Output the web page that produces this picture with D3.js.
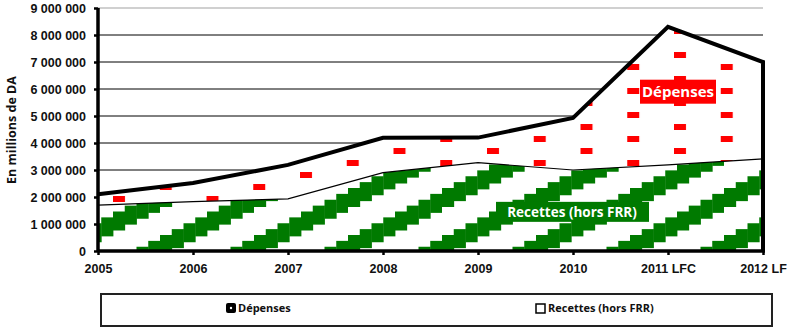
<!DOCTYPE html>
<html>
<head>
<meta charset="utf-8">
<script src="https://cdn.jsdelivr.net/npm/d3@7"></script>
<style>
  body { margin: 0; background: #fff; }
  svg { display: block; font-family: "Open Sans", "Noto Sans", sans-serif; }
  .axis text { font-size: 12.5px; font-weight: 700; fill: #111; }
</style>
</head>
<body>
<div id="chart"></div>
<script>
const years = ["2005", "2006", "2007", "2008", "2009", "2010", "2011 LFC", "2012 LF"];
const depenses = [2100000, 2520000, 3190000, 4190000, 4200000, 4930000, 8300000, 7000000];
const recettes = [1700000, 1830000, 1930000, 2900000, 3270000, 3000000, 3190000, 3410000];
const yTicks = [0, 1000000, 2000000, 3000000, 4000000, 5000000, 6000000, 7000000, 8000000, 9000000];

const width = 787, height = 330;
const red = "#ff0000", green = "#007a00";

const svg = d3.select("#chart")
  .append("svg")
  .attr("width", width)
  .attr("height", height);

const x = d3.scalePoint().domain(years).range([98, 763]);
const y = d3.scaleLinear().domain([0, 9000000]).range([251, 8]);

const fmt = v => d3.format(",")(v).replace(/,/g, " ");

// patterns
const defs = svg.append("defs");

const dash = defs.append("pattern")
  .attr("id", "dash")
  .attr("patternUnits", "userSpaceOnUse")
  .attr("x", 113).attr("y", 196)
  .attr("width", 93.5).attr("height", 24);
dash.append("rect").attr("width", 93.5).attr("height", 24).attr("fill", "#fff");
dash.append("rect").attr("x", 0).attr("y", 0).attr("width", 12).attr("height", 6).attr("fill", red);
dash.append("rect").attr("x", 46.75).attr("y", 12).attr("width", 12).attr("height", 6).attr("fill", red);

const pw = 94, ph = 47, steps = 8, thick = 19;
const stripe = defs.append("pattern")
  .attr("id", "stripe")
  .attr("patternUnits", "userSpaceOnUse")
  .attr("x", 160).attr("y", 207)
  .attr("width", pw).attr("height", ph);
stripe.append("rect").attr("width", pw).attr("height", ph).attr("fill", "#fff");
d3.range(steps).forEach(i => {
  const sx = i * pw / steps, sw = pw / steps + 0.4;
  const yb = ph - i * ph / steps;
  const top = yb - thick;
  if (top >= 0) {
    stripe.append("rect").attr("x", sx).attr("y", top).attr("width", sw).attr("height", thick).attr("fill", green);
  } else {
    stripe.append("rect").attr("x", sx).attr("y", 0).attr("width", sw).attr("height", yb).attr("fill", green);
    stripe.append("rect").attr("x", sx).attr("y", ph + top).attr("width", sw).attr("height", -top).attr("fill", green);
  }
});

// gridlines
svg.append("g")
  .selectAll("line")
  .data(yTicks.filter(d => d > 0))
  .join("line")
  .attr("x1", x(years[0])).attr("x2", x(years[years.length - 1]))
  .attr("y1", d => y(d)).attr("y2", d => y(d))
  .attr("stroke", d => d === 9000000 ? "#d0d0d0" : "#000")
  .attr("stroke-width", d => d === 9000000 ? 2 : 1);

const area = d3.area()
  .x((d, i) => x(years[i]))
  .y0(y(0))
  .y1(d => y(d));

const line = d3.line()
  .x((d, i) => x(years[i]))
  .y(d => y(d));

svg.append("path")
  .datum(depenses)
  .attr("d", area)
  .attr("fill", "url(#dash)");

svg.append("path")
  .datum(recettes)
  .attr("d", area)
  .attr("fill", "url(#stripe)");

svg.append("path")
  .datum(recettes)
  .attr("d", line)
  .attr("fill", "none")
  .attr("stroke", "#000")
  .attr("stroke-width", 1.2);

// dépenses outline with right edge down to the axis
const last = years[years.length - 1];
svg.append("path")
  .attr("d", line(depenses) + `L${x(last)},${y(0)}`)
  .attr("fill", "none")
  .attr("stroke", "#000")
  .attr("stroke-width", 4)
  .attr("stroke-linejoin", "miter");

// labels
const lab1x = x("2011 LFC") + 10, lab1y = y(5900000);
svg.append("rect")
  .attr("x", lab1x - 38).attr("y", lab1y - 12)
  .attr("width", 76).attr("height", 24)
  .attr("fill", red);
svg.append("text")
  .attr("x", lab1x).attr("y", lab1y)
  .attr("dy", "0.35em")
  .attr("text-anchor", "middle")
  .attr("fill", "#fff")
  .attr("font-size", 15)
  .attr("font-weight", 700)
  .text("Dépenses");

const lab2x = (x("2009") + x("2011 LFC")) / 2 - 1, lab2y = y(1450000);
svg.append("rect")
  .attr("x", lab2x - 76).attr("y", lab2y - 10)
  .attr("width", 153).attr("height", 20)
  .attr("fill", green);
svg.append("text")
  .attr("x", lab2x).attr("y", lab2y)
  .attr("dy", "0.35em")
  .attr("text-anchor", "middle")
  .attr("fill", "#fff")
  .attr("font-size", 13.5)
  .attr("font-weight", 700)
  .text("Recettes (hors FRR)");

// axes
const yAxis = svg.append("g")
  .attr("class", "axis")
  .attr("transform", `translate(${x(years[0])},0)`)
  .call(d3.axisLeft(y).tickValues(yTicks).tickFormat(fmt).tickSize(4).tickPadding(8));
yAxis.select(".domain").attr("stroke-width", 3.5).attr("d", `M0,${y(9000000)}V${y(0)}`);
yAxis.selectAll(".tick line").attr("stroke-width", 2.5);

const xAxis = svg.append("g")
  .attr("class", "axis")
  .attr("transform", `translate(0,${y(0)})`)
  .call(d3.axisBottom(x).tickSize(4).tickPadding(9));
xAxis.select(".domain").attr("stroke-width", 3.5).attr("d", `M${x(years[0])},0H${x(last) + 2}`);
xAxis.selectAll(".tick line").attr("stroke-width", 2.5);

// y title
svg.append("text")
  .attr("transform", "translate(12,130) rotate(-90)")
  .attr("text-anchor", "middle")
  .attr("dy", "0.35em")
  .attr("font-size", 12.5)
  .attr("font-weight", 700)
  .attr("fill", "#111")
  .text("En millions de DA");

// legend
const legend = svg.append("g");
legend.append("rect")
  .attr("x", 101).attr("y", 294)
  .attr("width", 671).attr("height", 32)
  .attr("fill", "#fff")
  .attr("stroke", "#222")
  .attr("stroke-width", 2);

const leg1 = legend.append("g").attr("transform", "translate(226,303)");
leg1.append("rect").attr("width", 10).attr("height", 10).attr("rx", 2).attr("fill", "#000");
leg1.append("circle").attr("cx", 5).attr("cy", 5).attr("r", 1.2).attr("fill", "#fff");
leg1.append("text").attr("x", 12).attr("y", 5).attr("dy", "0.35em")
  .attr("font-size", 11).attr("font-weight", 700).attr("fill", "#111").text("Dépenses");

const leg2 = legend.append("g").attr("transform", "translate(536,304)");
leg2.append("rect").attr("width", 9).attr("height", 9).attr("fill", "#fff")
  .attr("stroke", "#000").attr("stroke-width", 1.5);
leg2.append("text").attr("x", 12).attr("y", 4.5).attr("dy", "0.35em")
  .attr("font-size", 11).attr("font-weight", 700).attr("fill", "#111").text("Recettes (hors FRR)");
</script>
</body>
</html>
